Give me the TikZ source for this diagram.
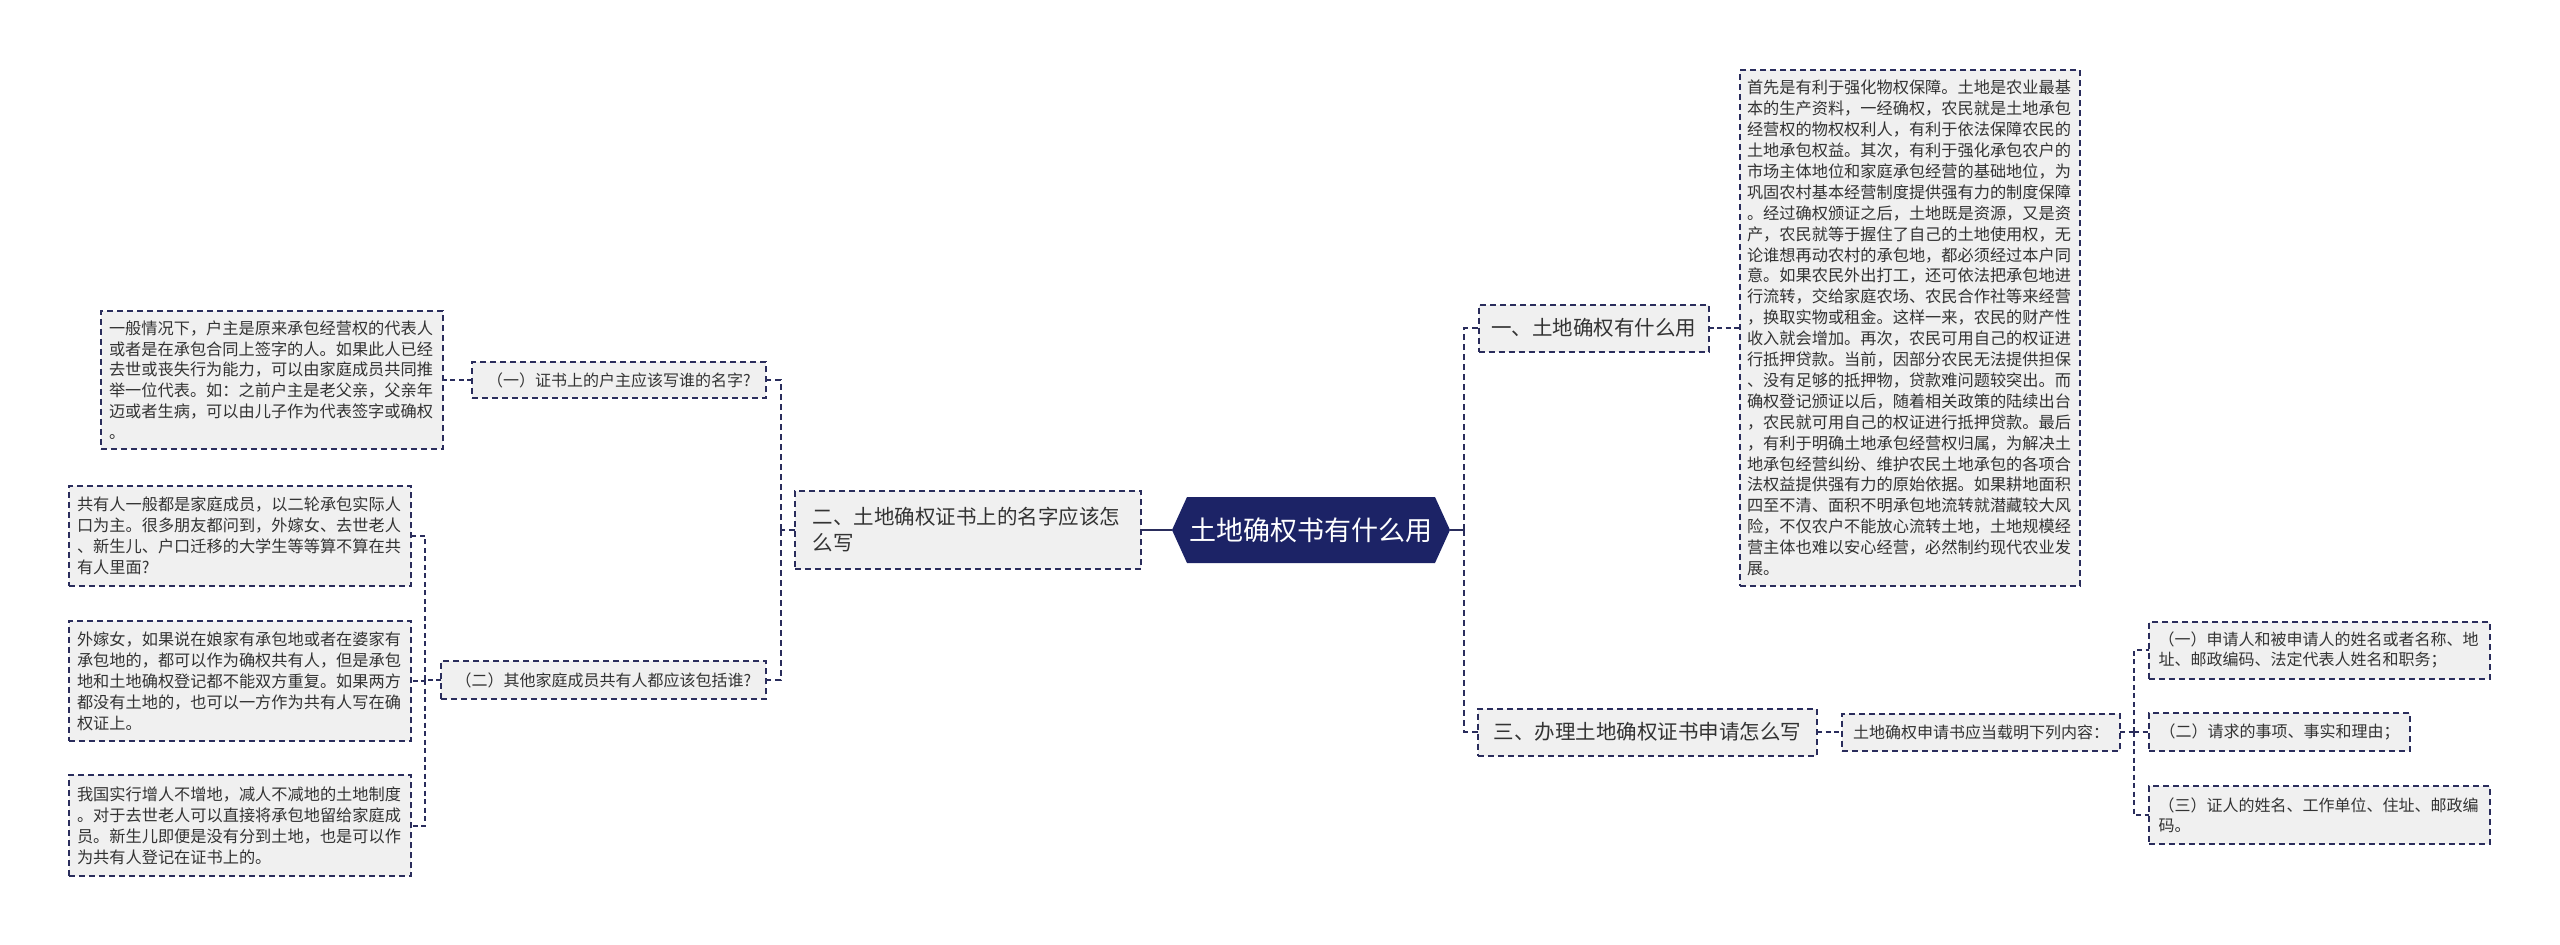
\documentclass[tikz,border=0pt]{standalone}
\usepackage{fontspec}
\setmainfont{Noto Sans CJK SC}
\setlength{\parindent}{0pt}
\definecolor{rootblue}{HTML}{1C2366}
\definecolor{edgecol}{HTML}{2A2D5C}
\definecolor{boxfill}{HTML}{F0F0F0}
\definecolor{txt}{HTML}{333333}
\tikzset{
  every node/.style={inner sep=0pt, outer sep=0pt},
  tbox/.style={draw=edgecol, fill=boxfill, line width=2pt, dash pattern=on 6pt off 4pt,
    text=txt, font=\fontsize{16.2}{20.9}\selectfont, align=left, text width=326pt},
  sbox/.style={draw=edgecol, fill=boxfill, line width=2pt, dash pattern=on 6pt off 4pt,
    text=txt, font=\fontsize{16}{20}\selectfont, align=left},
  mbox/.style={draw=edgecol, fill=boxfill, line width=2pt, dash pattern=on 6pt off 4pt,
    text=txt, font=\fontsize{20.5}{26}\selectfont, align=left},
  conn/.style={draw=edgecol, line width=2pt, dash pattern=on 5pt off 3.5pt},
  thickconn/.style={draw=edgecol, line width=2.8pt, dash pattern=on 6pt off 4pt},
  rootline/.style={draw=edgecol, line width=2.5pt},
}
\begin{document}
\begin{tikzpicture}[x=1pt,y=-1pt]
\useasboundingbox (0,0) rectangle (2560,945);
\fill[white] (0,0) rectangle (2560,945);
% root
\fill[rootblue] (1172,530) -- (1187,497) -- (1435,497) -- (1450,530) -- (1435,563) -- (1187,563) -- cycle;
\node[text=white, font=\fontsize{27}{32}\selectfont, minimum width=278pt, minimum height=66pt] (root) at (1311,530) {土地确权书有什么用};

% right branch one
\node[mbox, minimum width=230pt, minimum height=47pt, align=center] (n1) at (1593.5,328) {一、土地确权有什么用};
\node[tbox, minimum width=340pt, minimum height=516pt] (big) at (1910,328) {首先是有利于强化物权保障。土地是农业最基\\
本的生产资料，一经确权，农民就是土地承包\\
经营权的物权权利人，有利于依法保障农民的\\
土地承包权益。其次，有利于强化承包农户的\\
市场主体地位和家庭承包经营的基础地位，为\\
巩固农村基本经营制度提供强有力的制度保障\\
。经过确权颁证之后，土地既是资源，又是资\\
产，农民就等于握住了自己的土地使用权，无\\
论谁想再动农村的承包地，都必须经过本户同\\
意。如果农民外出打工，还可依法把承包地进\\
行流转，交给家庭农场、农民合作社等来经营\\
，换取实物或租金。这样一来，农民的财产性\\
收入就会增加。再次，农民可用自己的权证进\\
行抵押贷款。当前，因部分农民无法提供担保\\
、没有足够的抵押物，贷款难问题较突出。而\\
确权登记颁证以后，随着相关政策的陆续出台\\
，农民就可用自己的权证进行抵押贷款。最后\\
，有利于明确土地承包经营权归属，为解决土\\
地承包经营纠纷、维护农民土地承包的各项合\\
法权益提供强有力的原始依据。如果耕地面积\\
四至不清、面积不明承包地流转就潜藏较大风\\
险，不仅农户不能放心流转土地，土地规模经\\
营主体也难以安心经营，必然制约现代农业发\\
展。};

% right branch three
\node[mbox, minimum width=339pt, minimum height=47pt, align=center] (n3) at (1647.5,732) {三、办理土地确权证书申请怎么写};
\node[sbox, minimum width=278pt, minimum height=37pt, align=center] (m) at (1981,732) {土地确权申请书应当载明下列内容：};
\node[sbox, text width=322pt, minimum width=341pt, minimum height=57pt] (r1) at (2319.5,650) {（一）申请人和被申请人的姓名或者名称、地\\址、邮政编码、法定代表人姓名和职务；};
\node[sbox, minimum width=261pt, minimum height=38pt, align=center] (r2) at (2279.5,732) {（二）请求的事项、事实和理由；};
\node[sbox, text width=322pt, minimum width=341pt, minimum height=58pt] (r3) at (2319.5,815) {（三）证人的姓名、工作单位、住址、邮政编\\码。};

% left branch two
\node[mbox, text width=311pt, minimum width=346pt, minimum height=78pt] (n2) at (968,530) {二、土地确权证书上的名字应该怎\\么写};
\node[sbox, minimum width=294pt, minimum height=36pt, align=center] (l1) at (619,380) {（一）证书上的户主应该写谁的名字?};
\node[sbox, minimum width=325pt, minimum height=38pt, align=center] (l2) at (603.5,680) {（二）其他家庭成员共有人都应该包括谁?};
\node[tbox, minimum width=342pt, minimum height=138pt] (b1) at (272,380) {一般情况下，户主是原来承包经营权的代表人\\
或者是在承包合同上签字的人。如果此人已经\\
去世或丧失行为能力，可以由家庭成员共同推\\
举一位代表。如：之前户主是老父亲，父亲年\\
迈或者生病，可以由儿子作为代表签字或确权\\
。};
\node[tbox, minimum width=342pt, minimum height=100pt] (ba) at (240,536) {共有人一般都是家庭成员，以二轮承包实际人\\
口为主。很多朋友都问到，外嫁女、去世老人\\
、新生儿、户口迁移的大学生等等算不算在共\\
有人里面?};
\node[tbox, minimum width=342pt, minimum height=120pt] (bb) at (240,681) {外嫁女，如果说在娘家有承包地或者在婆家有\\
承包地的，都可以作为确权共有人，但是承包\\
地和土地确权登记都不能双方重复。如果两方\\
都没有土地的，也可以一方作为共有人写在确\\
权证上。};
\node[tbox, minimum width=342pt, minimum height=101pt] (bc) at (240,825.5) {我国实行增人不增地，减人不减地的土地制度\\
。对于去世老人可以直接将承包地留给家庭成\\
员。新生儿即便是没有分到土地，也是可以作\\
为共有人登记在证书上的。};

% connectors
\coordinate (rs) at (1464,530);
\draw[rootline] (root.east) -- (rs);
\draw[thickconn] (rs) |- (n1.west);
\draw[thickconn] (rs) |- (n3.west);
\draw[conn] (n1.east) -- (big.west |- n1.east);
\draw[conn] (n3.east) -- (m.west);
\coordinate (rs2) at (2134,732);
\draw[conn] (m.east) -- (rs2);
\draw[conn] (rs2) |- (r1.west);
\draw[conn] (rs2) -- (r2.west);
\draw[conn] (rs2) |- (r3.west);

\draw[rootline] (root.west) -- (n2.east);
\coordinate (ls) at (781,530);
\draw[thickconn] (n2.west) -- (ls);
\draw[thickconn] (ls) |- (l1.east);
\draw[thickconn] (ls) |- (l2.east);
\draw[conn] (l1.west) -- (b1.east);
\coordinate (ls2) at (425,680);
\draw[conn] (l2.west) -- (ls2);
\draw[conn] (ls2) |- (ba.east);
\draw[conn] (ls2) |- (bb.east);
\draw[conn] (ls2) |- (bc.east);
\end{tikzpicture}
\end{document}
